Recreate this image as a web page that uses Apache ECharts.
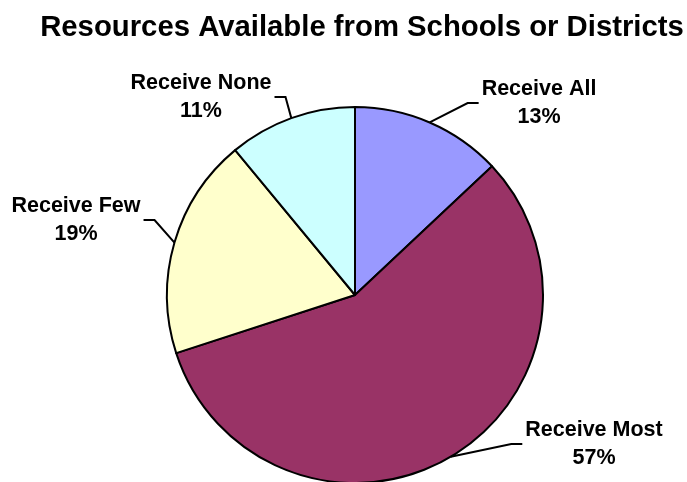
<!DOCTYPE html>
<html>
<head>
<meta charset="utf-8">
<title>Resources Available from Schools or Districts</title>
<script src="https://cdn.jsdelivr.net/npm/echarts@6/dist/echarts.min.js"></script>
<style>
  html, body { margin: 0; padding: 0; background: #ffffff; }
  #chart { width: 687px; height: 482px; }
</style>
</head>
<body>
<div id="chart"></div>
<script>
// Slice names and their shares (percent)
const categories = ['Receive All', 'Receive Most', 'Receive Few', 'Receive None'];
const shares = [13, 57, 19, 11];

// Styling
const sliceColors = ['#9999FF', '#993366', '#FFFFCC', '#CCFFFF'];
const FONT = "'Liberation Sans', Arial, Helvetica, sans-serif";
const PIE_CENTER = [355, 295];
const PIE_RADIUS = 188;

// Where each two-line label block sits (centre of the block)
const labelCenters = [[539, 103], [594, 444], [76, 220], [201, 97]];

const chart = echarts.init(document.getElementById('chart'), null, { renderer: 'canvas' });

chart.setOption({
  animation: false,
  backgroundColor: '#ffffff',
  title: {
    text: 'Resources Available from Schools or Districts',
    left: 357,
    top: 8,
    textAlign: 'center',
    textStyle: {
      fontFamily: FONT,
      fontWeight: 'bold',
      fontSize: 29.3,
      color: '#000000'
    }
  },
  series: [{
    type: 'pie',
    center: PIE_CENTER,
    radius: PIE_RADIUS,
    startAngle: 90,
    clockwise: true,
    avoidLabelOverlap: false,
    emphasis: { disabled: true },
    itemStyle: { borderColor: '#000000', borderWidth: 2 },
    label: {
      show: true,
      position: 'outside',
      formatter: '{b}\n{c}%',
      fontFamily: FONT,
      fontWeight: 'bold',
      fontSize: 21.5,
      lineHeight: 28,
      color: '#000000',
      align: 'center'
    },
    labelLine: {
      show: true,
      length: 15,
      length2: 10,
      smooth: false,
      lineStyle: { color: '#000000', width: 2 }
    },
    labelLayout: function (params) {
      const i = params.dataIndex;
      const pos = labelCenters[i];
      const w = params.labelRect.width;
      // leader starts on the rim at the slice's mid angle
      let start;
      if (params.labelLinePoints && params.labelLinePoints[0]) {
        start = params.labelLinePoints[0];
      } else {
        let before = 0;
        for (let k = 0; k < i; k++) before += shares[k];
        const total = shares.reduce((a, b) => a + b, 0);
        const ang = (before + shares[i] / 2) / total * Math.PI * 2;
        start = [PIE_CENTER[0] + PIE_RADIUS * Math.sin(ang), PIE_CENTER[1] - PIE_RADIUS * Math.cos(ang)];
      }
      const side = pos[0] > PIE_CENTER[0] ? -1 : 1;
      const endX = pos[0] + side * (w / 2 + 3);
      const elbowX = endX + side * 11;
      return {
        x: pos[0],
        y: pos[1],
        align: 'center',
        verticalAlign: 'middle',
        labelLinePoints: [start, [elbowX, pos[1]], [endX, pos[1]]]
      };
    },
    data: categories.map((name, i) => ({
      name: name,
      value: shares[i],
      itemStyle: { color: sliceColors[i] }
    }))
  }]
});
</script>
</body>
</html>
